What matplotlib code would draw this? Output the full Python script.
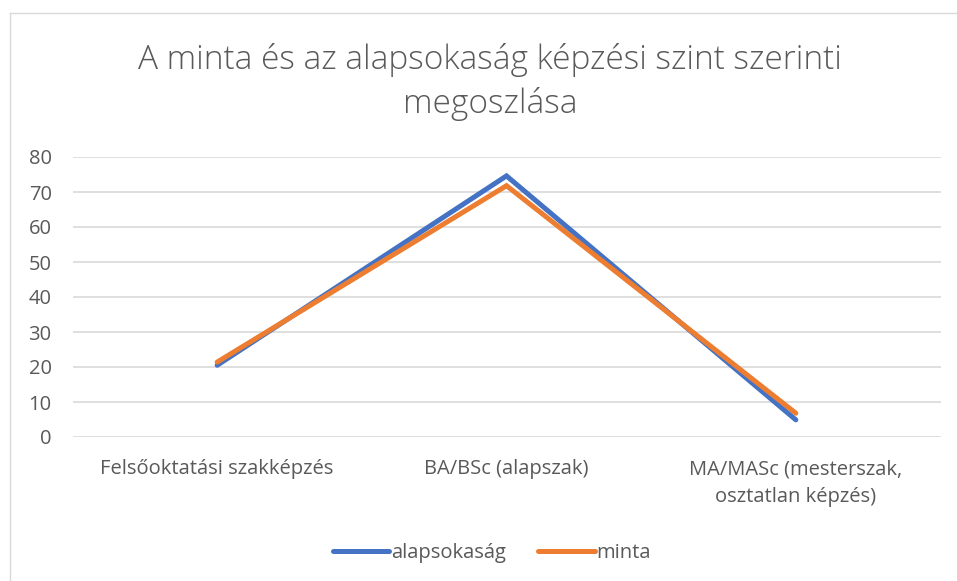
import matplotlib
matplotlib.use("Agg")
import matplotlib.pyplot as plt
from matplotlib.lines import Line2D

categories = ["Felsőoktatási szakképzés", "BA/BSc (alapszak)", "MA/MASc (mesterszak,\nosztatlan képzés)"]
alapsokasag = [20.5, 74.6, 4.9]
minta = [21.4, 71.8, 6.8]
yticks = [0, 10, 20, 30, 40, 50, 60, 70, 80]
title = "A minta és az alapsokaság képzési szint szerinti\nmegoszlása"

W, H = 957, 581
fig = plt.figure(figsize=(W / 100, H / 100), dpi=100)
plt.rcParams['font.family'] = ['Open Sans', 'DejaVu Sans']

# chart border (left and top visible)
fig.add_artist(Line2D([10 / W, 10 / W], [0, 1 - 13 / H], transform=fig.transFigure, color="#d9d9d9", lw=1))
fig.add_artist(Line2D([10 / W, 1], [1 - 13 / H, 1 - 13 / H], transform=fig.transFigure, color="#d9d9d9", lw=1))

left, right = 72.5 / W, 940.5 / W
bottom, top = 1 - 437 / H, 1 - 157 / H
ax = fig.add_axes([left, bottom, right - left, top - bottom])
x = list(range(len(categories)))
ax.plot(x, alapsokasag, color="#4472C4", lw=3.6, solid_capstyle="round", solid_joinstyle="miter", label="alapsokaság", zorder=3)
ax.plot(x, minta, color="#ED7D31", lw=3.6, solid_capstyle="round", solid_joinstyle="miter", label="minta", zorder=4)
ax.set_xlim(-0.5, len(categories) - 0.5)
ax.set_ylim(0, 80)
ax.set_yticks(yticks)
ax.set_xticks(x)
ax.set_xticklabels(categories, fontsize=14.5, color="#595959", linespacing=1.55)
ax.tick_params(axis="y", labelsize=14.5, labelcolor="#595959", length=0, pad=15)
ax.tick_params(axis="x", length=0, pad=16)
for s in ax.spines.values():
    s.set_visible(False)
ax.grid(axis="y", color="#d9d9d9", lw=1.2)
ax.set_axisbelow(True)

fig.text(490 / W, 1 - 82 / H, title, ha="center", va="center", fontsize=24, color="#595959",
         linespacing=1.38, fontweight="light")

handles = [Line2D([], [], color="#4472C4", lw=3.6, solid_capstyle="round"),
           Line2D([], [], color="#ED7D31", lw=3.6, solid_capstyle="round")]
fig.legend(handles, ["alapsokaság", "minta"], loc="center", bbox_to_anchor=(492 / W, 1 - 553 / H),
           ncol=2, frameon=False, fontsize=14.5, labelcolor="#595959", handlelength=2.8,
           handletextpad=0.1, columnspacing=1.6)

fig.savefig("out.png", dpi=100)
